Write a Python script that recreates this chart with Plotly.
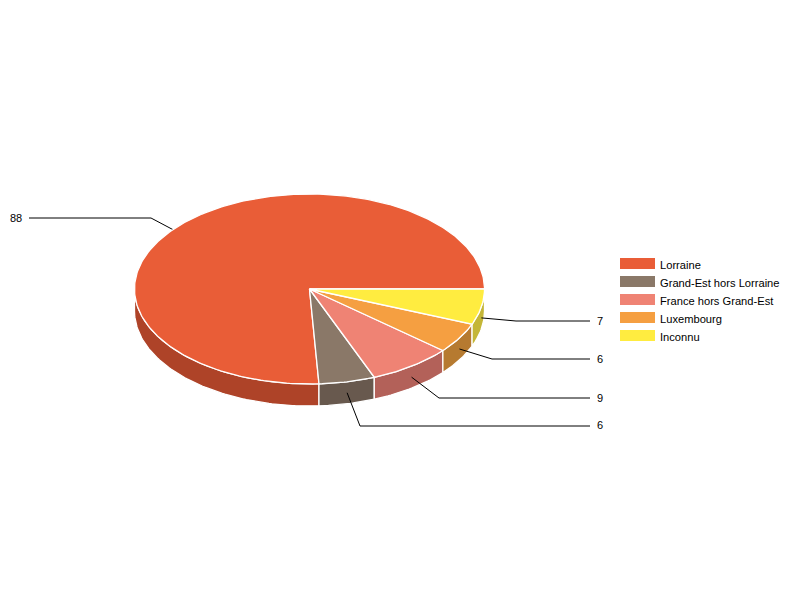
import numpy as np
import plotly.graph_objects as go

categories = ["Lorraine", "Grand-Est hors Lorraine", "France hors Grand-Est", "Luxembourg", "Inconnu"]
values = [88, 6, 9, 6, 7]
colors = ["#E95D37", "#8A7868", "#EF8374", "#F59F41", "#FFEC40"]
wall_colors = ["#AE4328", "#68594E", "#B36159", "#B67A30", "#C4B637"]

# pie geometry (plot units = pixels)
cx, cy, rx, ry, depth = 309.5, 289.0, 175.0, 95.0, 22.0
# leader elbows and label anchors
elbow_x = [151, 360, 439, 492, 516]
elbow_y = [218, 426, 398, 359, 321]
end_x = [29, 590, 590, 590, 590]
label_x = [16, 600, 600, 600, 600]
label_y = [218, 425, 398, 359, 321]
legend_y = [265, 283, 301, 319, 337]

total = sum(values)
edges = np.cumsum([0] + values) / total * 2 * np.pi


def arc(a0, a1, dy=0.0):
    t = np.linspace(a0, a1, max(int((a1 - a0) * 60), 2))
    return cx + rx * np.cos(t), cy - ry * np.sin(t) + dy


fig = go.Figure()

# side walls (front half only)
for i in range(len(values)):
    a0, a1 = max(edges[i], np.pi), edges[i + 1]
    if a1 <= a0:
        continue
    x1, y1 = arc(a0, a1)
    x2, y2 = arc(a0, a1, depth)
    fig.add_trace(go.Scatter(
        x=np.r_[x1, x2[::-1], x1[0]], y=np.r_[y1, y2[::-1], y1[0]],
        mode="lines", fill="toself", fillcolor=wall_colors[i],
        line=dict(color="white", width=1.3), showlegend=False, hoverinfo="skip"))

# leader lines
annotations = []
for i in range(len(values)):
    mid = (edges[i] + edges[i + 1]) / 2
    sx, sy = cx + rx * np.cos(mid), cy - ry * np.sin(mid) + depth / 2
    fig.add_trace(go.Scatter(
        x=[sx, elbow_x[i], end_x[i]], y=[sy, elbow_y[i], elbow_y[i]],
        mode="lines", line=dict(color="black", width=1), showlegend=False, hoverinfo="skip"))
    annotations.append(dict(x=label_x[i], y=label_y[i], text=str(values[i]), showarrow=False,
                            xref="x", yref="y", xanchor="center", yanchor="middle",
                            font=dict(family="Liberation Sans, Arial", size=11, color="black")))

# top faces
for i in range(len(values)):
    x1, y1 = arc(edges[i], edges[i + 1])
    fig.add_trace(go.Scatter(
        x=np.r_[cx, x1, cx], y=np.r_[cy, y1, cy],
        mode="lines", fill="toself", fillcolor=colors[i],
        line=dict(color="white", width=1.3), showlegend=False,
        name=categories[i], hovertemplate="%{fullData.name}: " + str(values[i]) + "<extra></extra>"))

# one native legend per row, placed to the reference's 18 px row pitch
layout_legends = {}
for i in range(len(values)):
    key = "legend" if i == 0 else f"legend{i + 1}"
    fig.add_trace(go.Scatter(
        x=[None], y=[None], mode="lines", fill="toself", fillcolor=colors[i],
        line=dict(color=colors[i], width=10), name=categories[i], legend=key, showlegend=True))
    layout_legends[key] = dict(
        x=615 / 800, y=1 - legend_y[i] / 600, xanchor="left", yanchor="middle",
        bgcolor="rgba(0,0,0,0)", itemwidth=35, itemclick=False, itemdoubleclick=False,
        font=dict(family="Liberation Sans, Arial", size=11.15, color="black"))

fig.update_layout(
    width=800, height=600, margin=dict(l=0, r=0, t=0, b=0),
    paper_bgcolor="white", plot_bgcolor="white",
    xaxis=dict(range=[0, 800], visible=False, fixedrange=True),
    yaxis=dict(range=[600, 0], visible=False, fixedrange=True),
    annotations=annotations, **layout_legends)

fig.write_html("out.html", config={"displayModeBar": False},
               post_script="document.body.style.margin='0';")
